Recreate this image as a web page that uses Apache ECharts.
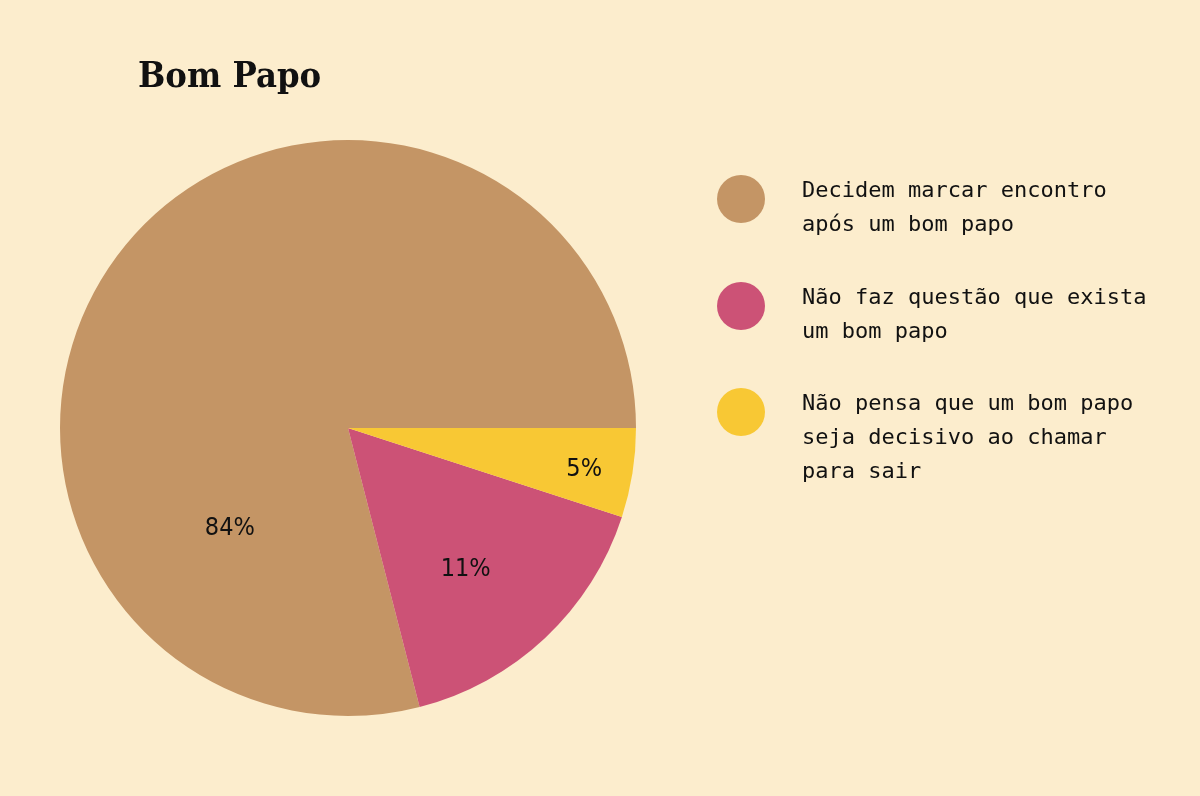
<!DOCTYPE html>
<html>
<head>
<meta charset="utf-8">
<script src="https://cdn.jsdelivr.net/npm/echarts@6/dist/echarts.min.js"></script>
<style>
  html, body { margin: 0; padding: 0; background: #FCEDCD; }
  #chart { width: 1200px; height: 796px; }
</style>
</head>
<body>
<div id="chart"></div>
<script>
// ---- data ----
const titleText = 'Bom Papo';
const categories = [
  'Decidem marcar encontro\napós um bom papo',
  'Não faz questão que exista\num bom papo',
  'Não pensa que um bom papo\nseja decisivo ao chamar\npara sair'
];
// slice sizes as drawn in the reference (percent of the circle)
const sliceValues = [79, 16, 5];
// label texts printed on the slices
const labelTexts = ['84%', '11%', '5%'];
const sliceColors = ['#C49565', '#CC5276', '#F8C834'];

// ---- styling / layout (not data) ----
const labelOffsets = [[-2, 191], [17, 34], [91, 19]];
const legendTops = [156, 263, 335];
const legendSpacer = [18, 18, 52];

const chart = echarts.init(document.getElementById('chart'), null, { renderer: 'canvas' });

const legendFont = {
  fontFamily: '"DejaVu Sans Mono", "Liberation Mono", monospace',
  fontSize: 22,
  lineHeight: 34,
  color: '#111111'
};

const option = {
  backgroundColor: '#FCEDCD',
  animation: false,
  title: {
    text: titleText,
    left: 138,
    top: 60,
    padding: 0,
    textStyle: {
      fontFamily: '"DejaVu Serif Condensed", "DejaVu Serif", serif',
      fontWeight: 'bold',
      fontSize: 36,
      color: '#111111'
    }
  },
  legend: categories.map((name, i) => ({
    orient: 'vertical',
    left: 717,
    top: legendTops[i],
    padding: 0,
    icon: 'circle',
    itemWidth: 48,
    itemHeight: 48,
    selectedMode: false,
    data: [name],
    formatter: (n) => '{s| }\n' + n.split('\n').map(l => '{t|' + l + '}').join('\n'),
    textStyle: Object.assign({}, legendFont, {
      padding: [0, 0, 0, 32],
      rich: {
        s: { fontSize: 4, lineHeight: legendSpacer[i] },
        t: Object.assign({}, legendFont)
      }
    })
  })),
  series: [{
    type: 'pie',
    center: [348, 428],
    radius: 288,
    startAngle: 0,
    clockwise: false,
    avoidLabelOverlap: false,
    silent: true,
    itemStyle: { borderWidth: 0 },
    label: {
      show: true,
      position: 'inside',
      fontFamily: '"DejaVu Sans Condensed", "Liberation Sans Narrow", sans-serif',
      fontSize: 25,
      color: '#111111',
      formatter: (p) => labelTexts[p.dataIndex]
    },
    labelLine: { show: false },
    emphasis: { disabled: true },
    data: categories.map((name, i) => ({
      name: name,
      value: sliceValues[i],
      itemStyle: { color: sliceColors[i] },
      label: { offset: labelOffsets[i] }
    }))
  }]
};

chart.setOption(option);
</script>
</body>
</html>
